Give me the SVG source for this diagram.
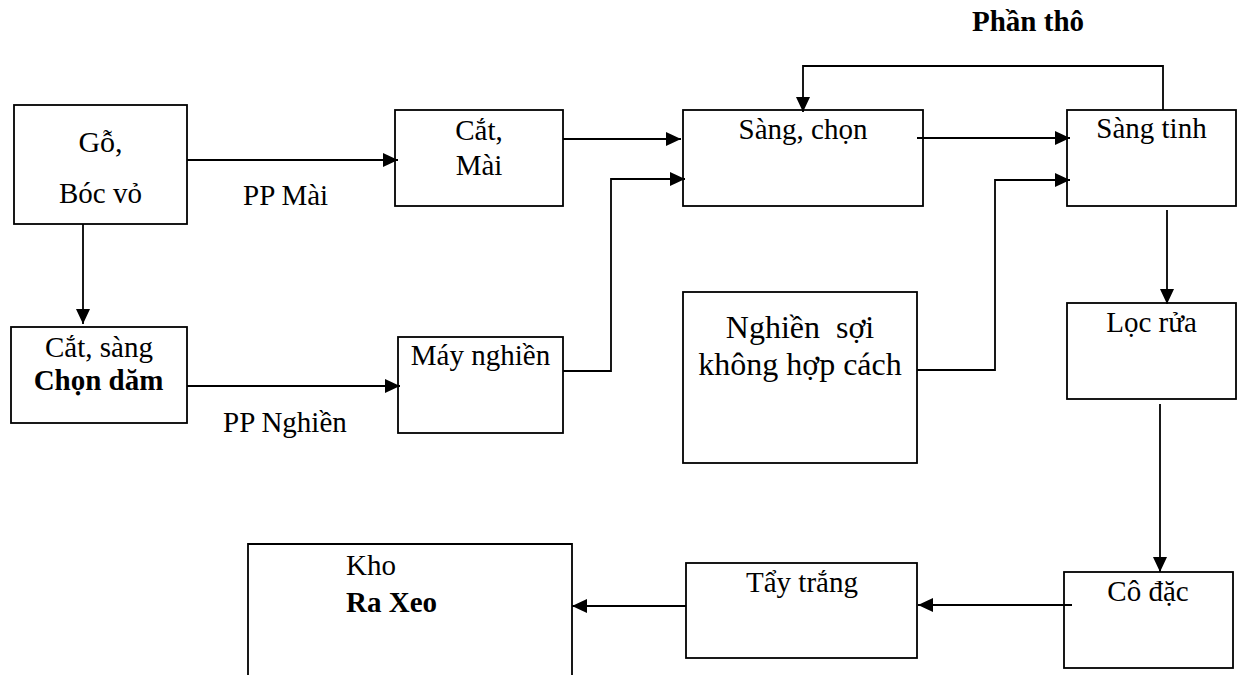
<svg xmlns="http://www.w3.org/2000/svg" width="1239" height="675" viewBox="0 0 1239 675">
<style>
.box{fill:#fff;stroke:#000;stroke-width:1.8}
.t{font-family:"Liberation Serif","Times New Roman",serif;font-size:29px;fill:#000}
.c{text-anchor:middle}
.b{font-weight:bold}
.ln{fill:none;stroke:#000;stroke-width:1.8}
</style>
<defs>
<marker id="ah" markerUnits="userSpaceOnUse" markerWidth="16" markerHeight="16" refX="15" refY="7" orient="auto">
<path d="M0,0 L15,7 L0,14 Z" fill="#000"/>
</marker>
</defs>
<rect width="1239" height="675" fill="#fff"/>
<text class="t b" x="972" y="31">Phần thô</text>
<text class="t" x="243" y="205">PP Mài</text>
<text class="t" x="223" y="432">PP Nghiền</text>
<g id="go">
<rect class="box" x="14" y="105" width="173" height="119"/>
<text class="t c" x="100.5" y="152" style="font-size:30px">Gỗ,</text>
<text class="t c" x="100.5" y="203">Bóc vỏ</text>
</g>
<g id="catmai">
<rect class="box" x="395" y="110" width="168" height="96"/>
<text class="t c" x="479" y="140">Cắt,</text>
<text class="t c" x="479" y="175">Mài</text>
</g>
<g id="sangchon">
<rect class="box" x="683" y="110" width="240" height="96"/>
<text class="t c" x="803" y="139">Sàng, chọn</text>
</g>
<g id="sangtinh">
<rect class="box" x="1067" y="110" width="169" height="96"/>
<text class="t c" x="1151.5" y="138">Sàng tinh</text>
</g>
<g id="catsang">
<rect class="box" x="11" y="327" width="176" height="96"/>
<text class="t c" x="99" y="357">Cắt, sàng</text>
<text class="t c b" x="98.5" y="390">Chọn dăm</text>
</g>
<g id="maynghien">
<rect class="box" x="398" y="337" width="165" height="96"/>
<text class="t c" x="480.5" y="365">Máy nghiền</text>
</g>
<g id="nghiensoi">
<rect class="box" x="683" y="292" width="234" height="171"/>
<text class="t c" x="800" y="338" style="font-size:32px" xml:space="preserve">Nghiền  sợi</text>
<text class="t c" x="800" y="375" style="font-size:32px">không hợp cách</text>
</g>
<g id="locrua">
<rect class="box" x="1067" y="303" width="169" height="96"/>
<text class="t c" x="1151.5" y="332">Lọc rửa</text>
</g>
<g id="codac">
<rect class="box" x="1064" y="572" width="169" height="96"/>
<text class="t c" x="1148" y="601">Cô đặc</text>
</g>
<g id="taytrang">
<rect class="box" x="686" y="563" width="231" height="95"/>
<text class="t c" x="802" y="592">Tẩy trắng</text>
</g>
<g id="kho">
<path class="ln" d="M248,680 V544 H572 V680"/>
<text class="t" x="346" y="575">Kho</text>
<text class="t b" x="346" y="612">Ra Xeo</text>
</g>
<g id="connectors">
<path class="ln" d="M187,160 H398" marker-end="url(#ah)"/>
<path class="ln" d="M83,224 V324" marker-end="url(#ah)"/>
<path class="ln" d="M187,386 H400" marker-end="url(#ah)"/>
<path class="ln" d="M563,139 H681" marker-end="url(#ah)"/>
<path class="ln" d="M563,371 H611 V179 H685" marker-end="url(#ah)"/>
<path class="ln" d="M917,138 H1070" marker-end="url(#ah)"/>
<path class="ln" d="M917,370 H995 V180 H1070" marker-end="url(#ah)"/>
<path class="ln" d="M1163,110 V66 H803 V112" marker-end="url(#ah)"/>
<path class="ln" d="M1167,210 V304" marker-end="url(#ah)"/>
<path class="ln" d="M1160,404 V572" marker-end="url(#ah)"/>
<path class="ln" d="M1072,605 H918" marker-end="url(#ah)"/>
<path class="ln" d="M686,606 H572" marker-end="url(#ah)"/>
</g>
</svg>
